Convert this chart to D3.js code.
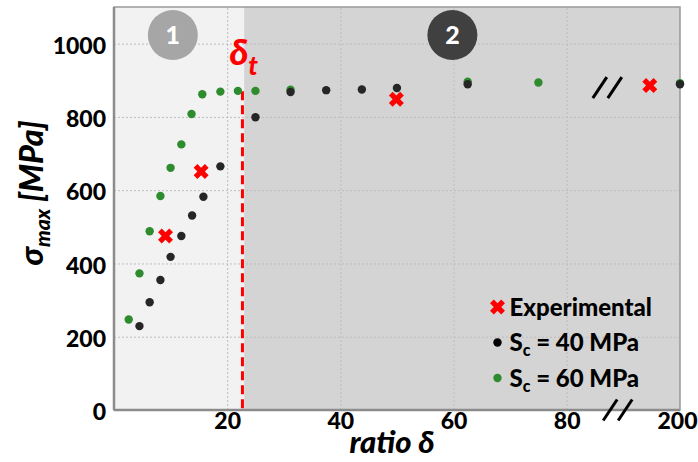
<!DOCTYPE html>
<html>
<head>
<meta charset="utf-8">
<script src="https://cdn.jsdelivr.net/npm/d3@7"></script>
<style>
  body { margin: 0; background: #fff; }
  text { font-family: Lato, "Open Sans", sans-serif; font-weight: 900; }
</style>
</head>
<body>
<div id="container"></div>
<script>
/* CONSTANTS AND GLOBALS */
const width = 698,
  height = 462,
  margin = { top: 7, right: 18, bottom: 52, left: 114 };

/* DATA */
// axis is broken between 80 and 200
const xTicks = [20, 40, 60, 80, 200];
const yTicks = [0, 200, 400, 600, 800, 1000];

const ratioSc40 = [4.5, 6.3, 8.2, 10.0, 11.9, 13.8, 15.8, 18.8, 25.0, 31.2, 37.5, 43.8, 50.0, 62.5, 200];
const sigmaSc40 = [229, 294, 355, 418, 475, 531, 582, 665, 799, 868, 873, 875, 879, 889, 889];

const ratioSc60 = [2.6, 4.5, 6.3, 8.2, 10.0, 11.9, 13.7, 15.6, 18.8, 21.9, 25.0, 31.2, 62.5, 75.0, 200];
const sigmaSc60 = [247, 373, 488, 584, 661, 725, 808, 862, 869, 871, 871, 874, 896, 894, 892];

const ratioExp = [9.1, 15.4, 49.9, 168];
const sigmaExp = [475, 651, 848, 886];

const deltaT = 22.7;

const legendLabels = ["Experimental", "S|c| = 40 MPa", "S|c| = 60 MPa"];

const sc40 = ratioSc40.map((r, i) => ({ ratio: r, sigma: sigmaSc40[i] }));
const sc60 = ratioSc60.map((r, i) => ({ ratio: r, sigma: sigmaSc60[i] }));
const exp = ratioExp.map((r, i) => ({ ratio: r, sigma: sigmaExp[i] }));

// SCALES (piecewise for the broken axis)
const xScale = d3.scaleLinear()
  .domain([0, 80, 200])
  .range([margin.left, 566.7, width - margin.right]);

const yScale = d3.scaleLinear()
  .domain([0, 1100])
  .range([height - margin.bottom, margin.top]);

const x0 = xScale.range()[0], x1 = xScale.range()[2];
const y0 = yScale.range()[0], y1 = yScale.range()[1];

// CREATE SVG ELEMENT
const svg = d3.select("#container")
  .append("svg")
  .attr("width", width)
  .attr("height", height);

// REGIONS
svg.append("rect")
  .attr("x", x0).attr("y", y1)
  .attr("width", xScale(23) - x0).attr("height", y0 - y1)
  .attr("fill", "#f2f2f2");
svg.append("rect")
  .attr("x", xScale(23)).attr("y", y1)
  .attr("width", x1 - xScale(23)).attr("height", y0 - y1)
  .attr("fill", "#d4d4d4");

// GRID
svg.append("g")
  .attr("transform", `translate(${x0}, 0)`)
  .call(d3.axisLeft(yScale).tickValues(yTicks.slice(1)).tickSize(-(x1 - x0)).tickFormat(""))
  .call(g => g.select(".domain").remove())
  .selectAll("line")
  .attr("stroke", "#bdbdbd")
  .attr("stroke-dasharray", "2,2");

svg.append("g")
  .attr("transform", `translate(0, ${y0})`)
  .call(d3.axisBottom(xScale).tickValues(xTicks.slice(0, 4)).tickSize(-(y0 - y1)).tickFormat(""))
  .call(g => g.select(".domain").remove())
  .selectAll("line")
  .attr("stroke", "#bdbdbd")
  .attr("stroke-dasharray", "2,2");

// FRAME
svg.append("rect")
  .attr("x", x0).attr("y", y1)
  .attr("width", x1 - x0).attr("height", y0 - y1)
  .attr("fill", "none")
  .attr("stroke", "#999")
  .attr("stroke-width", 1.5);
svg.append("line")
  .attr("x1", x0).attr("x2", x1).attr("y1", y0).attr("y2", y0)
  .attr("stroke", "#8c8c8c").attr("stroke-width", 2.5);
svg.append("line")
  .attr("x1", x0).attr("x2", x0).attr("y1", y1).attr("y2", y0)
  .attr("stroke", "#8c8c8c").attr("stroke-width", 2.5);

// AXES LABELS
const xAxis = svg.append("g")
  .attr("transform", `translate(0, ${y0})`)
  .call(d3.axisBottom(xScale).tickValues(xTicks).tickSize(0).tickPadding(3));
xAxis.select(".domain").remove();
xAxis.selectAll("text")
  .attr("font-size", 23).attr("fill", "#000")
  .attr("font-family", "Lato").attr("font-weight", 900);
// last label sits against the right edge of the page
xAxis.selectAll("text").filter(d => d === 200)
  .attr("text-anchor", "end").attr("x", width - 1 - xScale(200));

const yAxis = svg.append("g")
  .attr("transform", `translate(${x0 - 8}, 0)`)
  .call(d3.axisLeft(yScale).tickValues(yTicks).tickSize(0).tickPadding(0).tickFormat(d3.format("d")));
yAxis.select(".domain").remove();
yAxis.selectAll("text")
  .attr("font-size", 23).attr("fill", "#000").attr("dy", "0.42em")
  .attr("font-family", "Lato").attr("font-weight", 900);

// AXIS TITLES
svg.append("text")
  .attr("x", 392).attr("y", 453)
  .attr("text-anchor", "middle")
  .attr("font-size", 31).attr("font-style", "italic")
  .text("ratio δ");

const yt = svg.append("text")
  .attr("transform", `translate(43, 193) rotate(-90)`)
  .attr("text-anchor", "middle")
  .attr("font-size", 32).attr("font-style", "italic");
yt.append("tspan").text("σ");
yt.append("tspan").attr("font-size", 21).attr("dy", 7).text("max");
yt.append("tspan").attr("dy", -7).text(" [MPa]");

// DELTA_T LINE
svg.append("line")
  .attr("x1", xScale(deltaT)).attr("x2", xScale(deltaT))
  .attr("y1", yScale(870)).attr("y2", y0)
  .attr("stroke", "#ff0000").attr("stroke-width", 3)
  .attr("stroke-dasharray", "9,5");

const dt = svg.append("text")
  .attr("x", xScale(deltaT) - 13).attr("y", 65)
  .attr("fill", "#ff0000").attr("font-style", "italic").attr("font-size", 36);
dt.append("tspan").text("δ");
dt.append("tspan").attr("font-size", 26).attr("dy", 10).text("t");

// REGION BADGES
const badges = [{ label: "1", x: 10.4, fill: "#a6a6a6" }, { label: "2", x: 59.8, fill: "#404040" }];
badges.forEach(b => {
  svg.append("circle")
    .attr("cx", xScale(b.x)).attr("cy", 35).attr("r", 25)
    .attr("fill", b.fill);
  svg.append("text")
    .attr("x", xScale(b.x)).attr("y", 35).attr("dy", "0.36em")
    .attr("text-anchor", "middle").attr("fill", "#fff").attr("font-size", 25)
    .text(b.label);
});

// POINTS
svg.selectAll(".sc60")
  .data(sc60)
  .join("circle")
  .attr("class", "sc60")
  .attr("cx", d => xScale(d.ratio)).attr("cy", d => yScale(d.sigma))
  .attr("r", 4.2)
  .attr("fill", "#2e8b2e");

svg.selectAll(".sc40")
  .data(sc40)
  .join("circle")
  .attr("class", "sc40")
  .attr("cx", d => xScale(d.ratio)).attr("cy", d => yScale(d.sigma))
  .attr("r", 4.2)
  .attr("fill", "#262626");

const cross = d3.symbol().type(d3.symbolCross).size(140);
svg.selectAll(".exp")
  .data(exp)
  .join("path")
  .attr("class", "exp")
  .attr("d", cross)
  .attr("transform", d => `translate(${xScale(d.ratio)}, ${yScale(d.sigma)}) rotate(45)`)
  .attr("fill", "#ff0000");

// BREAK MARKS
function breakMark(cx, cy) {
  [-7.5, 7.5].forEach(off => {
    svg.append("line")
      .attr("x1", cx + off - 7).attr("y1", cy + 10.5)
      .attr("x2", cx + off + 7).attr("y2", cy - 10.5)
      .attr("stroke", "#000").attr("stroke-width", 3);
  });
}
breakMark(xScale(123), yScale(880));
breakMark(xScale(134), y0);

// LEGEND
const legend = svg.append("g").attr("transform", "translate(497.5, 307)");
legendLabels.forEach((lab, i) => {
  const g = legend.append("g").attr("transform", `translate(0, ${i * 35.5})`);
  if (i === 0) {
    g.append("path").attr("d", cross).attr("transform", "rotate(45)").attr("fill", "#ff0000");
  } else {
    g.append("circle").attr("r", 4.2).attr("fill", i === 1 ? "#000" : "#2e8b2e");
  }
  const parts = lab.split("|");
  const t = g.append("text").attr("x", 12).attr("dy", "0.36em").attr("font-size", 24);
  t.append("tspan").text(parts[0]);
  if (parts.length > 1) {
    t.append("tspan").attr("font-size", 16).attr("dy", 5).text(parts[1]);
    t.append("tspan").attr("dy", -5).text(parts[2]);
  }
});
</script>
</body>
</html>
